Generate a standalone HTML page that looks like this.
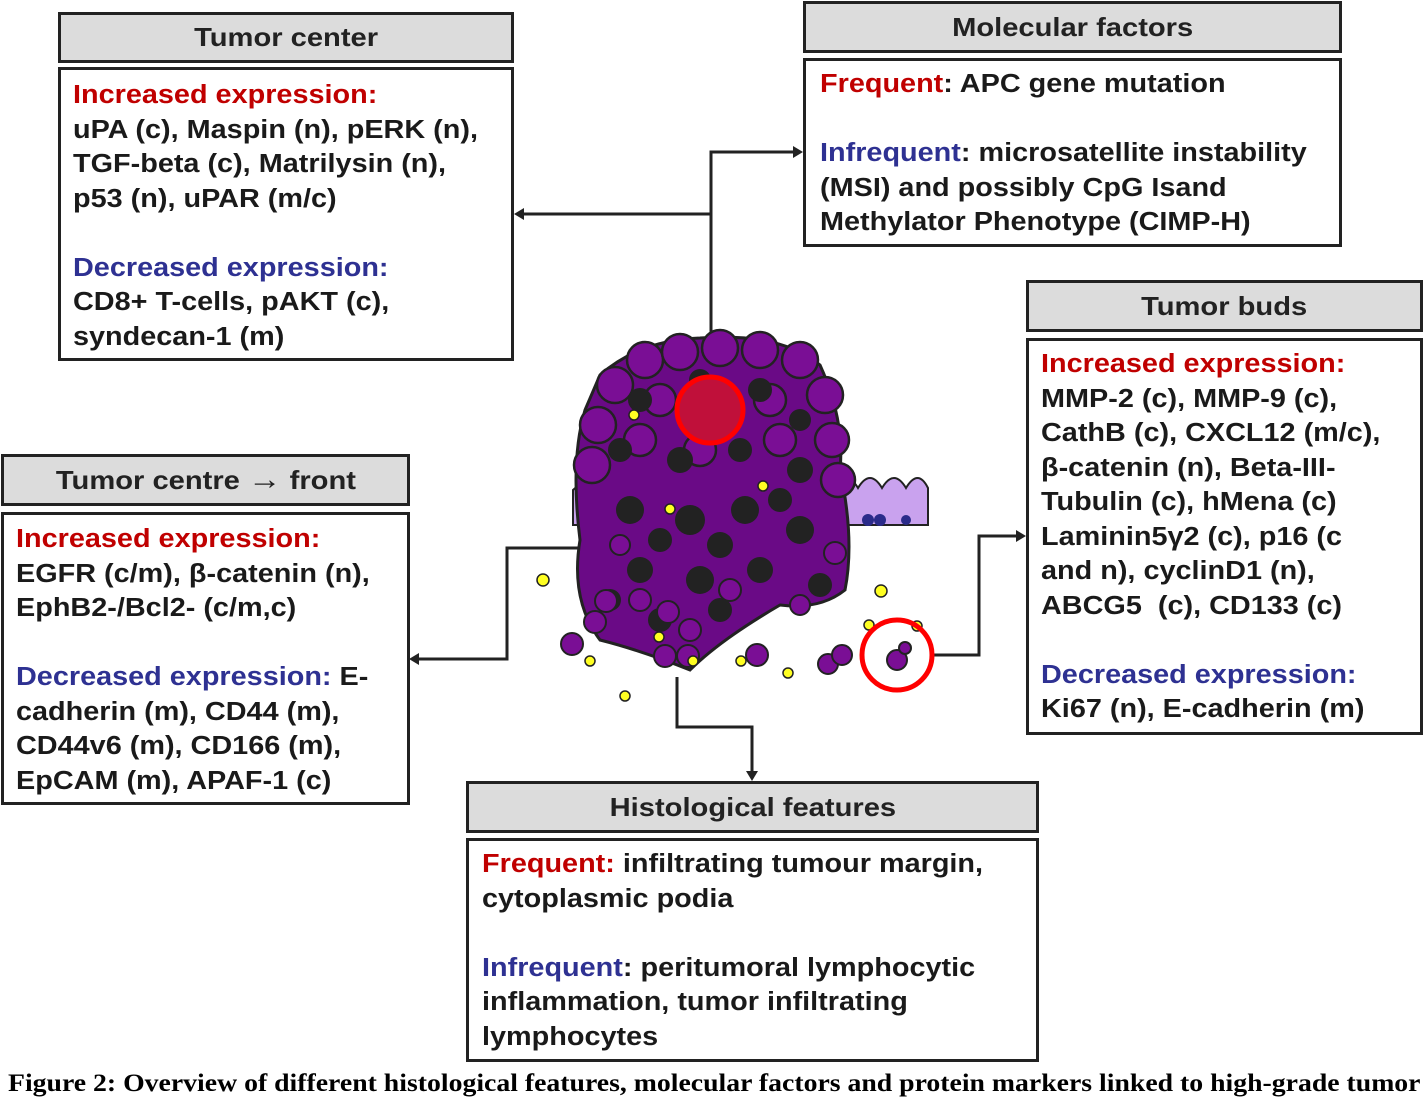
<!DOCTYPE html>
<html><head><meta charset="utf-8"><style>
body{margin:0;width:1424px;height:1096px;background:#fff;position:relative;overflow:hidden;font-family:"Liberation Sans",sans-serif;}
.b{position:absolute;border:3px solid #222;box-sizing:border-box;background:#fff}
.h{background:#dcdcdc;text-align:center;font-weight:bold;font-size:26px;color:#222}
.h span{display:inline-block;transform:scaleX(1.12)}
.t{position:absolute;font-weight:bold;font-size:25.5px;line-height:34.5px;color:#1a1a1a;white-space:nowrap;transform:scaleX(1.13);transform-origin:left top}
.r{color:#c00000}.u{color:#2e3192}
.cap{position:absolute;left:8px;top:1070px;font-family:"Liberation Serif",serif;font-weight:bold;font-size:25px;white-space:nowrap;transform:scaleX(1.11);transform-origin:left}
</style></head><body>
<svg width="1424" height="1096" style="position:absolute;left:0;top:0">
<g fill="none" stroke="#222" stroke-width="3">
<path d="M711 340V152H795M711 214H522"/>
<path d="M610 548H507V659H418"/>
<path d="M934 655H979V536H1018"/>
<path d="M677 677V727H752V772"/>
</g>
<g fill="#222">
<path d="M803 152l-10-6v12z"/><path d="M514 214l10-6v12z"/>
<path d="M409 659l10-6v12z"/><path d="M1026 536l-10-6v12z"/>
<path d="M752 781l-6-10h12z"/>
</g>
<g stroke="#222" stroke-width="2" fill="#c9a2ee">
<path d="M573 525V490q15-15 30 0V525z"/>
<path d="M810 525V488q12-20 24 0q12-20 24 0q12-20 24 0q12-20 24 0q12-20 22 0V525z"/>
</g>
<g fill="#2b2b8a"><circle cx="590" cy="516" r="6"/><circle cx="868" cy="520" r="6"/><circle cx="880" cy="520" r="6"/><circle cx="906" cy="520" r="5"/><circle cx="612" cy="522" r="5"/></g>
<path d="M600 375 Q640 340 700 338 Q780 332 820 365 Q845 420 840 470 Q855 540 845 590 Q820 610 780 605 Q720 640 690 670 Q640 650 600 640 Q570 600 580 540 Q570 460 585 410z" fill="#6a0a86" stroke="#222" stroke-width="3"/>
<g fill="#7a0e95" stroke="#222" stroke-width="2.5">
<circle cx="615" cy="385" r="18"/><circle cx="645" cy="360" r="18"/><circle cx="680" cy="352" r="18"/><circle cx="720" cy="348" r="18"/><circle cx="760" cy="350" r="18"/><circle cx="800" cy="360" r="18"/><circle cx="825" cy="395" r="18"/>
<circle cx="598" cy="425" r="18"/><circle cx="592" cy="465" r="18"/><circle cx="832" cy="440" r="17"/><circle cx="838" cy="480" r="17"/>
<circle cx="660" cy="400" r="16"/><circle cx="770" cy="400" r="16"/><circle cx="640" cy="440" r="16"/><circle cx="700" cy="450" r="16"/><circle cx="780" cy="440" r="16"/>
</g>
<g fill="#222">
<circle cx="640" cy="400" r="12"/><circle cx="700" cy="380" r="11"/><circle cx="760" cy="390" r="12"/><circle cx="800" cy="420" r="11"/><circle cx="620" cy="450" r="12"/><circle cx="680" cy="460" r="13"/><circle cx="740" cy="450" r="12"/><circle cx="800" cy="470" r="13"/>
<circle cx="630" cy="510" r="14"/><circle cx="690" cy="520" r="15"/><circle cx="745" cy="510" r="14"/><circle cx="800" cy="530" r="14"/><circle cx="640" cy="570" r="13"/><circle cx="700" cy="580" r="14"/><circle cx="760" cy="570" r="13"/><circle cx="820" cy="585" r="12"/>
<circle cx="660" cy="620" r="12"/><circle cx="720" cy="610" r="12"/><circle cx="610" cy="600" r="11"/><circle cx="660" cy="540" r="12"/><circle cx="720" cy="545" r="13"/><circle cx="780" cy="500" r="12"/>
</g>
<g fill="#7a0e95" stroke="#222" stroke-width="2">
<circle cx="572" cy="644" r="11"/><circle cx="595" cy="622" r="11"/><circle cx="606" cy="601" r="11"/><circle cx="665" cy="656" r="11"/><circle cx="688" cy="656" r="11"/><circle cx="757" cy="655" r="11"/><circle cx="828" cy="664" r="10"/><circle cx="842" cy="655" r="10"/><circle cx="668" cy="612" r="11"/><circle cx="730" cy="590" r="11"/><circle cx="800" cy="605" r="10"/><circle cx="835" cy="553" r="11"/><circle cx="620" cy="545" r="10"/><circle cx="640" cy="600" r="11"/><circle cx="690" cy="630" r="11"/>
<circle cx="897" cy="660" r="10"/><circle cx="905" cy="648" r="6"/>
</g>
<g fill="#ffff22" stroke="#222" stroke-width="1.5">
<circle cx="634" cy="415" r="5"/><circle cx="670" cy="509" r="5"/><circle cx="763" cy="486" r="5"/><circle cx="543" cy="580" r="6"/><circle cx="590" cy="661" r="5"/><circle cx="625" cy="696" r="5"/><circle cx="659" cy="637" r="5"/><circle cx="693" cy="661" r="5"/><circle cx="741" cy="661" r="5"/><circle cx="788" cy="673" r="5"/><circle cx="881" cy="591" r="6"/><circle cx="869" cy="625" r="5"/><circle cx="917" cy="626" r="5"/>
</g>
<circle cx="710" cy="410" r="33" fill="#c0103a" stroke="#f00" stroke-width="5"/>
<circle cx="897" cy="655" r="35" fill="none" stroke="#f00" stroke-width="5"/>
</svg>

<div class="b h" style="left:58px;top:12px;width:456px;height:51px;line-height:45px"><span>Tumor center</span></div>
<div class="b" style="left:58px;top:67px;width:456px;height:294px"></div>
<div class="t" style="left:73px;top:78px"><span class="r">Increased expression:</span><br>uPA (c), Maspin (n), pERK (n),<br>TGF-beta (c), Matrilysin (n),<br>p53 (n), uPAR (m/c)<br><br><span class="u">Decreased expression:</span><br>CD8+ T-cells, pAKT (c),<br>syndecan-1 (m)</div>

<div class="b h" style="left:803px;top:1px;width:539px;height:52px;line-height:46px"><span>Molecular factors</span></div>
<div class="b" style="left:803px;top:58px;width:539px;height:189px"></div>
<div class="t" style="left:820px;top:67px"><span class="r">Frequent</span>: APC gene mutation<br><br><span class="u">Infrequent</span>: microsatellite instability<br>(MSI) and possibly CpG Isand<br>Methylator Phenotype (CIMP-H)</div>

<div class="b h" style="left:1026px;top:280px;width:397px;height:52px;line-height:46px"><span>Tumor buds</span></div>
<div class="b" style="left:1026px;top:338px;width:397px;height:397px"></div>
<div class="t" style="left:1041px;top:347px"><span class="r">Increased expression:</span><br>MMP-2 (c), MMP-9 (c),<br>CathB (c), CXCL12 (m/c),<br>β-catenin (n), Beta-III-<br>Tubulin (c), hMena (c)<br>Laminin5γ2 (c), p16 (c<br>and n), cyclinD1 (n),<br>ABCG5 &nbsp;(c), CD133 (c)<br><br><span class="u">Decreased expression:</span><br>Ki67 (n), E-cadherin (m)</div>

<div class="b h" style="left:1px;top:454px;width:409px;height:52px;line-height:46px"><span>Tumor centre <b style="font-size:30px">→</b> front</span></div>
<div class="b" style="left:1px;top:512px;width:409px;height:293px"></div>
<div class="t" style="left:16px;top:522px"><span class="r">Increased expression:</span><br>EGFR (c/m), β-catenin (n),<br>EphB2-/Bcl2- (c/m,c)<br><br><span class="u">Decreased expression:</span> E-<br>cadherin (m), CD44 (m),<br>CD44v6 (m), CD166 (m),<br>EpCAM (m), APAF-1 (c)</div>

<div class="b h" style="left:466px;top:781px;width:573px;height:52px;line-height:46px"><span>Histological features</span></div>
<div class="b" style="left:466px;top:838px;width:573px;height:224px"></div>
<div class="t" style="left:482px;top:847px"><span class="r">Frequent:</span> infiltrating tumour margin,<br>cytoplasmic podia<br><br><span class="u">Infrequent</span>: peritumoral lymphocytic<br>inflammation, tumor infiltrating<br>lymphocytes</div>

<div class="cap">Figure 2: Overview of different histological features, molecular factors and protein markers linked to high-grade tumor</div>
</body></html>
